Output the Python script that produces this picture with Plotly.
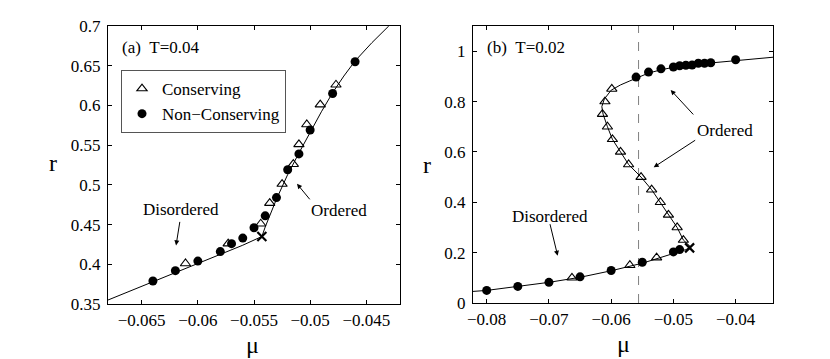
import plotly.graph_objects as go

# ---- panel (a), T=0.04 ----
a_cons_mu = [-0.0611, -0.0573, -0.0544, -0.0536, -0.0525, -0.0515, -0.0510, -0.0503, -0.0491, -0.0477]
a_cons_r = [0.401, 0.426, 0.451, 0.477, 0.501, 0.526, 0.551, 0.576, 0.601, 0.626]
a_noncons_mu = [-0.064, -0.062, -0.060, -0.058, -0.057, -0.056, -0.055, -0.054, -0.053, -0.052, -0.051, -0.050, -0.048, -0.046]
a_noncons_r = [0.379, 0.392, 0.404, 0.416, 0.426, 0.433, 0.446, 0.461, 0.484, 0.519, 0.539, 0.569, 0.615, 0.655]
a_curve_mu = [-0.068, -0.064, -0.060, -0.056, -0.0543, -0.054, -0.053, -0.052, -0.051, -0.050, -0.049, -0.048, -0.047, -0.046, -0.0445, -0.043]
a_curve_r = [0.355, 0.378, 0.401, 0.424, 0.435, 0.447, 0.482, 0.513, 0.540, 0.566, 0.592, 0.616, 0.637, 0.656, 0.679, 0.700]
a_spin_mu = [-0.0543]
a_spin_r = [0.435]

# ---- panel (b), T=0.02 ----
b_cons_mu = [-0.0663, -0.0570, -0.0527, -0.0484, -0.0494, -0.0508, -0.0521, -0.0535, -0.0552,
             -0.0572, -0.0585, -0.0598, -0.0606, -0.0614, -0.0610, -0.0599]
b_cons_r = [0.10, 0.15, 0.18, 0.25, 0.30, 0.35, 0.40, 0.45, 0.50, 0.55, 0.60, 0.65, 0.70, 0.75, 0.80, 0.85]
b_noncons_mu = [-0.080, -0.075, -0.070, -0.065, -0.060, -0.055, -0.050, -0.049,
                -0.056, -0.054, -0.052, -0.050, -0.049, -0.048, -0.047, -0.046, -0.045, -0.044, -0.040]
b_noncons_r = [0.050, 0.066, 0.082, 0.104, 0.129, 0.162, 0.203, 0.212,
               0.897, 0.917, 0.930, 0.937, 0.942, 0.944, 0.945, 0.952, 0.952, 0.954, 0.966]
b_curve_mu = [-0.0822, -0.080, -0.075, -0.070, -0.065, -0.060, -0.055, -0.052, -0.050, -0.048, -0.0472,
              -0.0478, -0.0484, -0.0494, -0.0508, -0.0521, -0.0535, -0.0552, -0.0572, -0.0585, -0.0598,
              -0.0606, -0.0613, -0.0615, -0.0611, -0.0600, -0.0585, -0.0570, -0.0556, -0.054, -0.052,
              -0.050, -0.045, -0.040, -0.034]
b_curve_r = [0.046, 0.050, 0.066, 0.082, 0.102, 0.128, 0.158, 0.182, 0.198, 0.212, 0.222,
             0.236, 0.250, 0.300, 0.350, 0.400, 0.450, 0.500, 0.550, 0.600, 0.650,
             0.700, 0.750, 0.780, 0.810, 0.845, 0.866, 0.882, 0.895, 0.913, 0.926,
             0.936, 0.951, 0.963, 0.976]
b_spin_mu = [-0.0474]
b_spin_r = [0.219]
b_mu_c = [-0.0556]

a_xticks = [-0.065, -0.06, -0.055, -0.05, -0.045]
a_xtext = ["\u22120.065", "\u22120.06", "\u22120.055", "\u22120.05", "\u22120.045"]
a_yticks = [0.35, 0.4, 0.45, 0.5, 0.55, 0.6, 0.65, 0.7]
a_ytext = ["0.35", "0.4", "0.45", "0.5", "0.55", "0.6", "0.65", "0.7"]
b_xticks = [-0.08, -0.07, -0.06, -0.05, -0.04]
b_xtext = ["\u22120.08", "\u22120.07", "\u22120.06", "\u22120.05", "\u22120.04"]
b_yticks = [0, 0.2, 0.4, 0.6, 0.8, 1]
b_ytext = ["0", "0.2", "0.4", "0.6", "0.8", "1"]

FONT = "Liberation Serif"
W, H = 830, 359
OFF = 8  # the page body adds an 8px margin, so shift the layout up/left by that much


def px(x):
    return (x - OFF) / W


def py(y):
    return 1 - (y - OFF) / H


fig = go.Figure()

tri = dict(symbol="triangle-up-open", size=9, color="black", line=dict(width=1.1, color="black"))
dot = dict(symbol="circle", size=9, color="black")
cross = dict(symbol="x-thin", size=9, color="black", line=dict(width=2.2, color="black"))

# panel (a)
fig.add_trace(go.Scatter(x=a_curve_mu, y=a_curve_r, mode="lines", line=dict(color="black", width=1),
                         showlegend=False, xaxis="x", yaxis="y"))
fig.add_trace(go.Scatter(x=a_cons_mu, y=a_cons_r, mode="markers", marker=tri, name="Conserving",
                         xaxis="x", yaxis="y"))
fig.add_trace(go.Scatter(x=a_noncons_mu, y=a_noncons_r, mode="markers", marker=dot, name="Non\u2212Conserving",
                         xaxis="x", yaxis="y"))
fig.add_trace(go.Scatter(x=a_spin_mu, y=a_spin_r, mode="markers", marker=cross, showlegend=False,
                         xaxis="x", yaxis="y"))

# panel (b)
fig.add_trace(go.Scatter(x=b_mu_c * 2, y=[0, 1.1], mode="lines",
                         line=dict(color="#808080", width=1, dash="dash"), showlegend=False,
                         xaxis="x2", yaxis="y2"))
fig.add_trace(go.Scatter(x=b_curve_mu, y=b_curve_r, mode="lines", line=dict(color="black", width=1),
                         showlegend=False, xaxis="x2", yaxis="y2"))
fig.add_trace(go.Scatter(x=b_cons_mu, y=b_cons_r, mode="markers", marker=tri, showlegend=False,
                         xaxis="x2", yaxis="y2"))
fig.add_trace(go.Scatter(x=b_noncons_mu, y=b_noncons_r, mode="markers", marker=dot, showlegend=False,
                         xaxis="x2", yaxis="y2"))
fig.add_trace(go.Scatter(x=b_spin_mu, y=b_spin_r, mode="markers", marker=cross, showlegend=False,
                         xaxis="x2", yaxis="y2"))

axis_common = dict(showline=True, linecolor="black", linewidth=1, mirror="ticks", ticks="inside",
                   ticklen=4, tickcolor="black", showgrid=False, zeroline=False, automargin=False,
                   tickfont=dict(family=FONT, size=17, color="black"))

fig.update_layout(
    width=W, height=H,
    margin=dict(l=0, r=0, t=0, b=0),
    paper_bgcolor="white", plot_bgcolor="white",
    font=dict(family=FONT, size=17, color="black"),
    xaxis=dict(domain=[px(108), px(400)], range=[-0.068, -0.042], tickvals=a_xticks, ticktext=a_xtext,
               anchor="y", ticklabelstandoff=1, **axis_common),
    yaxis=dict(domain=[py(304), py(26)], range=[0.35, 0.7], tickvals=a_yticks, ticktext=a_ytext,
               anchor="x", ticklabelstandoff=3, **axis_common),
    xaxis2=dict(domain=[px(473), px(773)], range=[-0.0822, -0.034], tickvals=b_xticks, ticktext=b_xtext,
                anchor="y2", ticklabelstandoff=1, **axis_common),
    yaxis2=dict(domain=[py(303), py(26)], range=[0, 1.1], tickvals=b_yticks, ticktext=b_ytext,
                anchor="x2", ticklabelstandoff=3, **axis_common),
    legend=dict(x=px(121), y=py(70), xanchor="left", yanchor="top", bgcolor="white",
                bordercolor="#555555", borderwidth=1, font=dict(family=FONT, size=17, color="black"),
                tracegroupgap=0, itemwidth=30),
)

txt = dict(showarrow=False, xanchor="center", yanchor="middle",
           font=dict(family=FONT, size=17, color="black"))
big = dict(showarrow=False, xanchor="center", yanchor="middle",
           font=dict(family=FONT, size=24, color="black"))
arr = dict(text="", showarrow=True, arrowhead=2, arrowsize=1, arrowwidth=1, arrowcolor="black",
           axref="pixel", ayref="pixel")

annotations = [
    dict(x=px(120), y=py(47), xref="paper", yref="paper", text="(a)\u00a0\u00a0T=0.04", showarrow=False,
         xanchor="left", yanchor="middle", font=dict(family=FONT, size=17, color="black")),
    dict(x=px(485), y=py(47), xref="paper", yref="paper", text="(b)\u00a0\u00a0T=0.02", showarrow=False,
         xanchor="left", yanchor="middle", font=dict(family=FONT, size=17, color="black")),
    dict(x=px(53), y=py(163), xref="paper", yref="paper", text="r", **big),
    dict(x=px(427), y=py(165), xref="paper", yref="paper", text="r", **big),
    dict(x=px(252), y=py(345), xref="paper", yref="paper", text="\u03bc", **big),
    dict(x=px(623), y=py(344), xref="paper", yref="paper", text="\u03bc", **big),
    # panel (a) labels and arrows
    dict(x=-0.0615, y=0.469, xref="x", yref="y", text="Disordered", **txt),
    dict(x=-0.04743, y=0.4675, xref="x", yref="y", text="Ordered", **txt),
    dict(x=-0.06194, y=0.4238, xref="x", yref="y", ax=4, ay=-25, **arr),
    dict(x=-0.05117, y=0.5013, xref="x", yref="y", ax=14, ay=17, **arr),
    # panel (b) labels and arrows
    dict(x=-0.04177, y=0.686, xref="x2", yref="y2", text="Ordered", **txt),
    dict(x=-0.06988, y=0.344, xref="x2", yref="y2", text="Disordered", **txt),
    dict(x=-0.05044, y=0.846, xref="x2", yref="y2", ax=24, ay=26, **arr),
    dict(x=-0.05317, y=0.539, xref="x2", yref="y2", ax=43, ay=-28, **arr),
    dict(x=-0.0686, y=0.188, xref="x2", yref="y2", ax=-8, ay=-33, **arr),
]
fig.update_layout(annotations=annotations)

fig.write_html("out.html")
